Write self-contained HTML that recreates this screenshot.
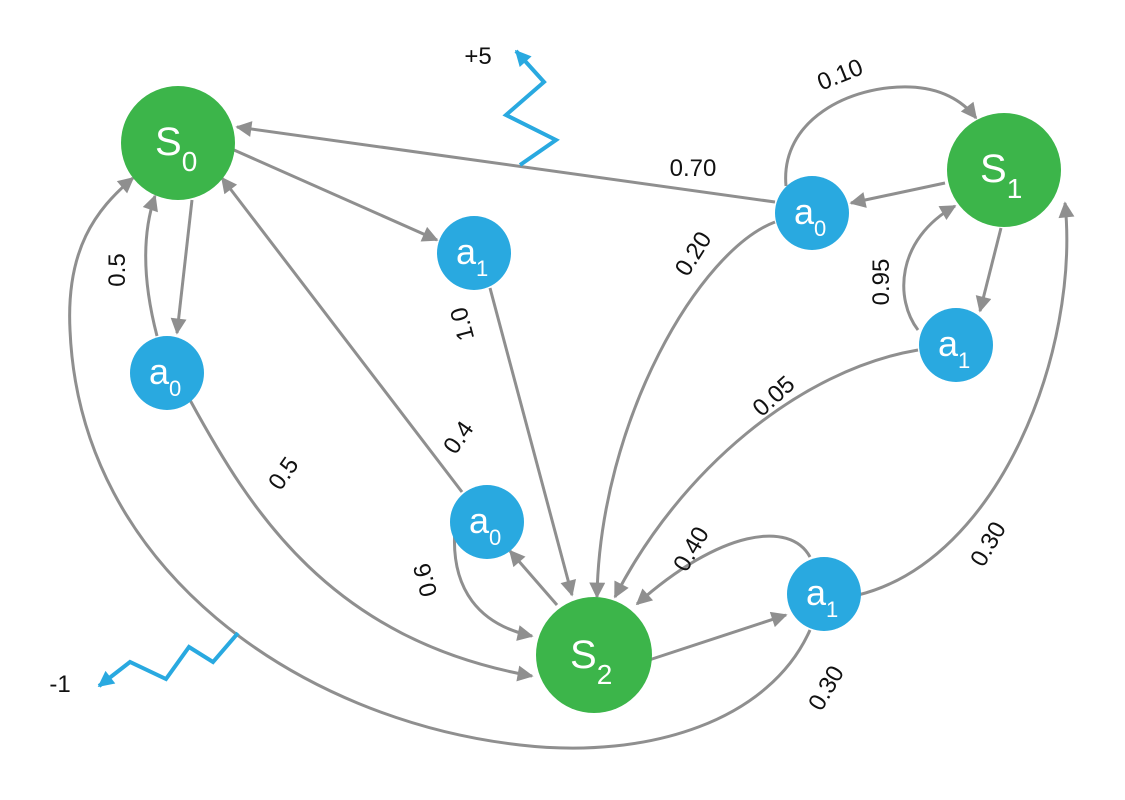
<!DOCTYPE html>
<html><head><meta charset="utf-8"><style>
html,body{margin:0;padding:0;background:#fff;}
svg{display:block;}
text{font-family:"Liberation Sans",sans-serif;}
</style></head><body>
<svg width="1125" height="800" viewBox="0 0 1125 800" xmlns="http://www.w3.org/2000/svg">
<defs>
<marker id="a" viewBox="0 0 10 10" refX="9" refY="5" markerWidth="18" markerHeight="16" markerUnits="userSpaceOnUse" orient="auto">
<path d="M0,0 L10,5 L0,10 z" fill="#8f8f8f"/></marker>
<marker id="b" viewBox="0 0 10 10" refX="9" refY="5" markerWidth="18" markerHeight="16" markerUnits="userSpaceOnUse" orient="auto">
<path d="M0,0 L10,5 L0,10 z" fill="#29a9e0"/></marker>
</defs>
<g fill="none" stroke="#8f8f8f" stroke-width="3" marker-end="url(#a)">
<path d="M945,183 L851,203"/>
<path d="M775,202 L237,127"/>
<path d="M786,186 C780,120 850,85 910,87 C940,88 962,100 976,118"/>
<path d="M775,222 C700,250 600,420 597,597"/>
<path d="M1001,228 L980,311"/>
<path d="M918,330 C895,300 895,240 955,206"/>
<path d="M918,350 C800,370 680,470 615,597"/>
<path d="M234,150 L437,240"/>
<path d="M490,288 L572,595"/>
<path d="M192,200 L177,333"/>
<path d="M157,336 C145,290 140,240 155,196"/>
<path d="M190,400 C250,510 330,640 532,676"/>
<path d="M462,492 L222,178"/>
<path d="M557,605 L510,551"/>
<path d="M455,528 C450,590 480,625 532,636"/>
<path d="M649,660 L786,615"/>
<path d="M810,557 C790,520 720,530 637,604"/>
<path d="M858,595 C1000,560 1080,350 1065,203"/>
<path d="M810,630 C770,720 650,760 520,745 C300,720 80,570 70,330 C66,250 95,210 133,178"/>
</g>
<g fill="none" stroke="#29a9e0" stroke-width="4">
<polyline points="520,165 556,140 506,115 544,82 516,51" marker-end="url(#b)"/>
<polyline points="238,633 213,662 189,647 166,679 130,662 99,686" marker-end="url(#b)"/>
</g>
<circle cx="178" cy="143" r="57" fill="#3cb54a"/>
<circle cx="1004" cy="170" r="57" fill="#3cb54a"/>
<circle cx="594" cy="655" r="58" fill="#3cb54a"/>
<circle cx="474" cy="253" r="37" fill="#29a9e0"/>
<circle cx="167" cy="373" r="37" fill="#29a9e0"/>
<circle cx="812" cy="213" r="37" fill="#29a9e0"/>
<circle cx="956" cy="345" r="37" fill="#29a9e0"/>
<circle cx="487" cy="522" r="37" fill="#29a9e0"/>
<circle cx="824" cy="594" r="37" fill="#29a9e0"/>
<g fill="#fff">
<text x="155" y="155" font-size="40">S<tspan font-size="28" dy="16">0</tspan></text>
<text x="980" y="182" font-size="40">S<tspan font-size="28" dy="16">1</tspan></text>
<text x="570" y="668" font-size="40">S<tspan font-size="28" dy="16">2</tspan></text>
<text x="456" y="264" font-size="36">a<tspan font-size="22" dy="12">1</tspan></text>
<text x="149" y="384" font-size="36">a<tspan font-size="22" dy="12">0</tspan></text>
<text x="794" y="224" font-size="36">a<tspan font-size="22" dy="12">0</tspan></text>
<text x="938" y="356" font-size="36">a<tspan font-size="22" dy="12">1</tspan></text>
<text x="469" y="533" font-size="36">a<tspan font-size="22" dy="12">0</tspan></text>
<text x="806" y="605" font-size="36">a<tspan font-size="22" dy="12">1</tspan></text>
</g>
<g fill="#111" font-size="24" text-anchor="middle">
<text x="478" y="64">+5</text>
<text x="60" y="692">-1</text>
<text x="693" y="176">0.70</text>
<text transform="translate(843,82) rotate(-22)">0.10</text>
<text transform="translate(700,258) rotate(-58)">0.20</text>
<text transform="translate(889,282) rotate(-90)">0.95</text>
<text transform="translate(779,402) rotate(-42)">0.05</text>
<text transform="translate(470,322) rotate(-105)">1.0</text>
<text transform="translate(125,270) rotate(-90)">0.5</text>
<text transform="translate(290,478) rotate(-55)">0.5</text>
<text transform="translate(465,442) rotate(-55)">0.4</text>
<text transform="translate(433,578) rotate(-105)">0.6</text>
<text transform="translate(698,553) rotate(-60)">0.40</text>
<text transform="translate(995,548) rotate(-60)">0.30</text>
<text transform="translate(833,692) rotate(-60)">0.30</text>
</g>
</svg>
</body></html>
